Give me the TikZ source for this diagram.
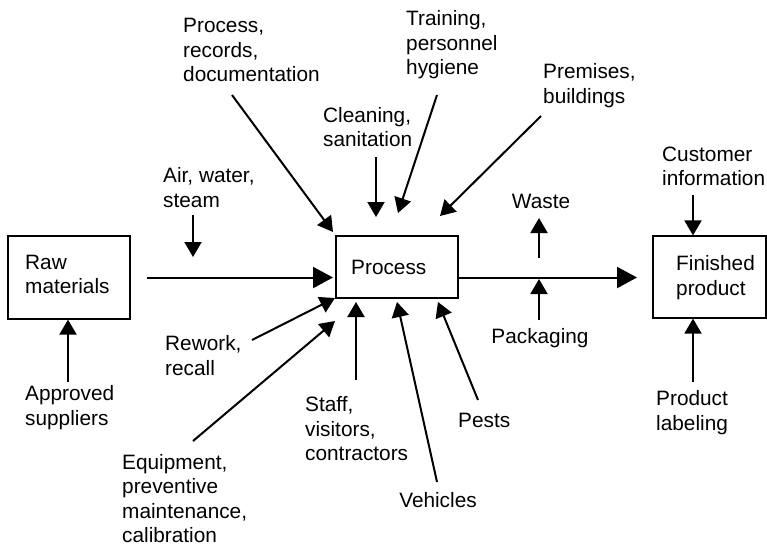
\documentclass[tikz,border=0pt]{standalone}
\usepackage{fontspec}
\setmainfont{Liberation Sans}
\usetikzlibrary{arrows.meta}
\begin{document}
\begin{tikzpicture}[x=1pt,y=-1pt,
  box/.style={draw,line width=1.2pt,inner sep=0pt},
  lbl/.style={inner sep=0pt,align=left,anchor=west,font=\fontsize{20.8}{24.5}\selectfont},
  clbl/.style={lbl,anchor=center,align=center},
  flow/.style={line width=2pt,-{Triangle[length=15pt,width=17pt]}},
  mainflow/.style={line width=2pt,-{Triangle[length=20pt,width=21pt]}}]
\useasboundingbox (0,0) rectangle (767,547);
% boxes
\node[box,minimum width=122pt,minimum height=83pt] (raw) at (69,277.5) {};
\node[lbl] (rawt) at (25,274.5) {Raw\\materials};
\node[box,minimum width=122pt,minimum height=62pt] (proc) at (397,267) {};
\node[lbl] (proct) at (351,267) {Process};
\node[box,minimum width=113pt,minimum height=82pt] (fin) at (709.5,277) {};
\node[lbl] (fint) at (676,277.5) {Finished\\product};
% labels
\node[lbl] (prc) at (183,50) {Process,\\records,\\documentation};
\node[lbl] (trn) at (406,45) {Training,\\personnel\\hygiene};
\node[lbl] (prm) at (543,85.5) {Premises,\\buildings};
\node[lbl] (cln) at (323,127) {Cleaning,\\sanitation};
\node[lbl] (air) at (163,187.5) {Air, water,\\steam};
\node[clbl] (wst) at (541,201) {Waste};
\node[lbl] (cus) at (662,166.5) {Customer\\information};
\node[lbl] (apr) at (25,407.5) {Approved\\suppliers};
\node[lbl] (rwk) at (165,355.5) {Rework,\\recall};
\node[lbl] (eqp) at (122,498.5) {Equipment,\\preventive\\maintenance,\\calibration};
\node[lbl] (stf) at (305,429) {Staff,\\visitors,\\contractors};
\node[clbl] (veh) at (438,500) {Vehicles};
\node[lbl] (pst) at (458,420) {Pests};
\node[clbl] (pkg) at (540,338) {Packaging};
\node[lbl] (pdl) at (656,412.5) {Product\\labeling};
% connector ends
\coordinate (miS) at (147,277.5);
\coordinate (miE) at (333,277.5);
\coordinate (moS) at (458,277.5);
\coordinate (moE) at (637,277.5);
\coordinate (airS) at (193,215);
\coordinate (airE) at (193,257);
\coordinate (prcS) at (232,95);
\coordinate (prcE) at (333,232);
\coordinate (clnS) at (376,157);
\coordinate (clnE) at (376,217);
\coordinate (trnS) at (437,95);
\coordinate (trnE) at (398,213);
\coordinate (prmS) at (541,116);
\coordinate (prmE) at (440,216);
\coordinate (wstS) at (539,258);
\coordinate (wstE) at (539,218);
\coordinate (pkgS) at (539,320);
\coordinate (pkgE) at (539,279);
\coordinate (cusS) at (693,195);
\coordinate (pdlS) at (693,382);
\coordinate (aprS) at (68,382);
\coordinate (rwkS) at (252,340);
\coordinate (rwkE) at (335,298);
\coordinate (eqpS) at (193,441);
\coordinate (eqpE) at (335,321);
\coordinate (stfS) at (356,380);
\coordinate (stfE) at (356,302);
\coordinate (vehS) at (437,482);
\coordinate (vehE) at (397,302);
\coordinate (pstS) at (478,400);
\coordinate (pstE) at (438,302);
% connectors
\draw[mainflow] (miS) -- (miE);
\draw[mainflow] (moS) -- (moE);
\draw[flow] (airS) -- (airE);
\draw[flow] (prcS) -- (prcE);
\draw[flow] (clnS) -- (clnE);
\draw[flow] (trnS) -- (trnE);
\draw[flow] (prmS) -- (prmE);
\draw[flow] (wstS) -- (wstE);
\draw[flow] (pkgS) -- (pkgE);
\draw[flow] (cusS) -- (cusS |- fin.north);
\draw[flow] (pdlS) -- (pdlS |- fin.south);
\draw[flow] (aprS) -- (aprS |- raw.south);
\draw[flow] (rwkS) -- (rwkE);
\draw[flow] (eqpS) -- (eqpE);
\draw[flow] (stfS) -- (stfE);
\draw[flow] (vehS) -- (vehE);
\draw[flow] (pstS) -- (pstE);
\end{tikzpicture}
\end{document}
